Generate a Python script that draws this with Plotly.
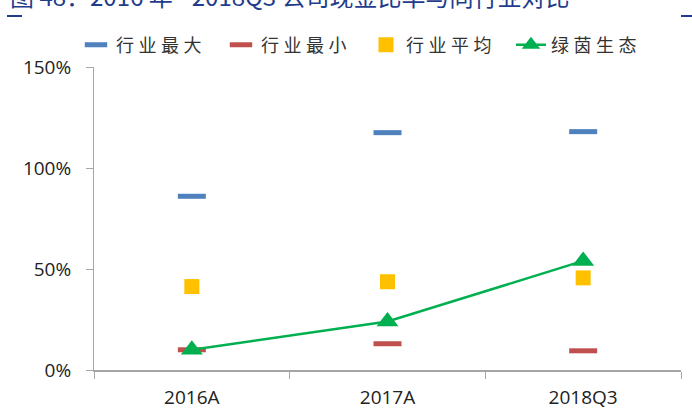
import plotly.graph_objects as go

categories = ["2016A", "2017A", "2018Q3"]
ind_max = [0.86, 1.175, 1.18]
ind_min = [0.10, 0.13, 0.095]
ind_avg = [0.413, 0.437, 0.456]
company = [0.10, 0.24, 0.54]

names = ["行业最大", "行业最小", "行业平均", "绿茵生态"]
sp = "\u2005"
def spaced(s):
    return sp.join(list(s))

BLUE = "#4F81BD"
RED = "#C0504D"
YELLOW = "#FFC000"
GREEN = "#00B050"

fig = go.Figure()
fig.add_trace(go.Scatter(x=categories, y=ind_max, mode="markers", name=spaced(names[0]),
                         marker=dict(symbol="line-ew", size=20, color=BLUE,
                                     line=dict(color=BLUE, width=5))))
fig.add_trace(go.Scatter(x=categories, y=ind_min, mode="markers", name=spaced(names[1]),
                         marker=dict(symbol="line-ew", size=20, color=RED,
                                     line=dict(color=RED, width=5))))
fig.add_trace(go.Scatter(x=categories, y=ind_avg, mode="markers", name=spaced(names[2]),
                         marker=dict(symbol="square", size=15, color=YELLOW)))
fig.add_trace(go.Scatter(x=categories, y=company, mode="lines+markers", name=spaced(names[3]),
                         line=dict(color=GREEN, width=2.5),
                         marker=dict(symbol="triangle-up", size=19, color=GREEN)))

W, H = 692, 411
L, R, T, B = 94, 11, 67, 41
pw = W - L - R
ph = H - T - B

def px_x(x):
    return (x - L) / pw

def px_y(y):
    return (H - B - y) / ph

fig.update_layout(
    width=W, height=H,
    margin=dict(l=L, r=R, t=T, b=B, pad=0, autoexpand=False),
    paper_bgcolor="white", plot_bgcolor="white",
    font=dict(family="Open Sans, Noto Sans CJK SC", size=18, color="#222222"),
    showlegend=True,
    legend=dict(orientation="h", x=px_x(76), y=px_y(45), xanchor="left", yanchor="middle",
                entrywidth=100, font=dict(family="Noto Sans CJK SC", size=18, color="#333333"),
                bgcolor="rgba(0,0,0,0)", borderwidth=0, itemsizing="trace"),
    xaxis=dict(type="category", range=[-0.5, 2.5], showgrid=False, zeroline=False,
               showline=True, linecolor="#A6A6A6", linewidth=1.5, automargin=False,
               ticks="outside", ticklen=7, tickcolor="#A6A6A6", tickwidth=1,
               tickson="boundaries", ticklabelstandoff=9,
               tickfont=dict(family="Open Sans", size=19, color="#222222")),
    yaxis=dict(range=[0, 1.5], tickvals=[0, 0.5, 1.0, 1.5], tickformat=".0%",
               showgrid=False, zeroline=False, showline=True, linecolor="#A6A6A6", linewidth=1,
               ticks="outside", ticklen=7, tickcolor="#A6A6A6", tickwidth=1,
               ticklabelstandoff=11, automargin=False,
               tickfont=dict(family="Open Sans", size=19, color="#222222")),
)

fig.add_annotation(text="图 48：2016 年 - 2018Q3 公司现金比率与同行业对比",
                   xref="paper", yref="paper", x=px_x(8), y=px_y(-4),
                   xanchor="left", yanchor="middle", showarrow=False,
                   font=dict(family="Noto Sans CJK SC", size=24, color="#1F3D8C"))

for x0, x1 in [(7, 22), (681, 692)]:
    fig.add_shape(type="line", xref="paper", yref="paper",
                  x0=px_x(x0), x1=px_x(x1), y0=px_y(16), y1=px_y(16),
                  line=dict(color="#1F3D8C", width=2))

fig.write_html("out.html")
